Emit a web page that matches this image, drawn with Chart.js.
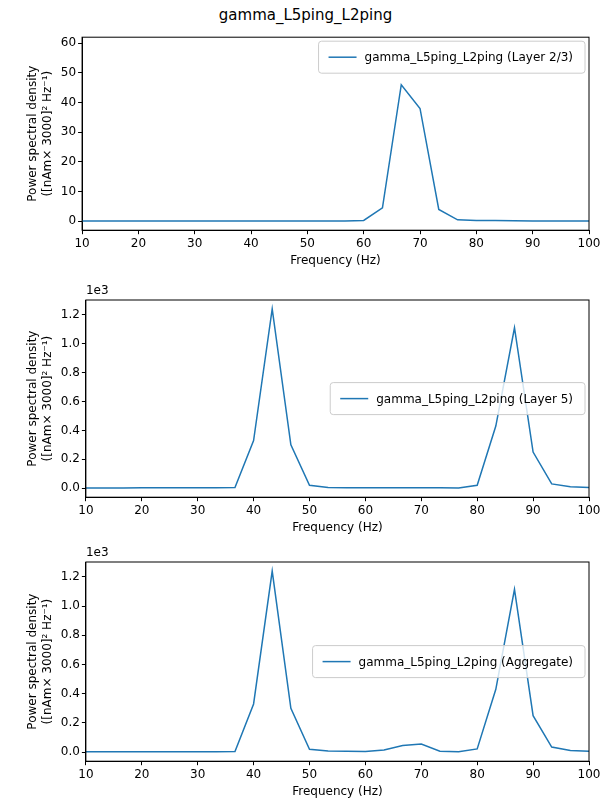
<!DOCTYPE html>
<html><head><meta charset="utf-8">
<script src="https://cdn.jsdelivr.net/npm/chart.js@4"></script>
<style>
body{margin:0;background:#fff;font-family:"DejaVu Sans";}
#title{position:absolute;top:6px;left:0;width:611px;text-align:center;font-size:15px;}
.box{position:absolute;left:0;width:611px;}
</style></head><body>
<div id="title">gamma_L5ping_L2ping</div>
<div class="box" style="top:28px;height:240px"><canvas id="c1"></canvas></div>
<div class="box" style="top:280px;height:255px"><canvas id="c2"></canvas></div>
<div class="box" style="top:542px;height:257px"><canvas id="c3"></canvas></div>
<script>
const freqs = [10,13.33,16.67,20,23.33,26.67,30,33.33,36.67,40,43.33,46.67,50,53.33,56.67,60,63.33,66.67,70,73.33,76.67,80,83.33,86.67,90,93.33,96.67,100];
const layer23 = [0.1,0.1,0.1,0.1,0.1,0.1,0.1,0.1,0.1,0.1,0.1,0.1,0.1,0.1,0.1,0.3,4.5,46,38,4,0.5,0.3,0.3,0.2,0.1,0.1,0.1,0.1];
const layer5 = [2,2,2,3,3,3,3,3,5,330,1240,300,20,5,4,4,4,4,4,3,2,20,430,1110,250,30,10,5];
const aggregate = [2,2,2,3,3,3,3,3,5,330,1240,300,20,8,6,5,15,45,55,6,3,22,430,1115,250,35,12,6];
const labels = ["gamma_L5ping_L2ping (Layer 2/3)","gamma_L5ping_L2ping (Layer 5)","gamma_L5ping_L2ping (Aggregate)"];
const blue = "#1f77b4";
Chart.defaults.font.family = "DejaVu Sans";
Chart.defaults.font.size = 12;
Chart.defaults.color = "#000";
Chart.defaults.animation = false;

const framePlugin = {
  id: "frame",
  afterDraw(chart, args, opts) {
    const a = chart.chartArea, ctx = chart.ctx;
    ctx.save();
    ctx.strokeStyle = "#000"; ctx.lineWidth = 1;
    ctx.strokeRect(a.left, a.top, a.right - a.left, a.bottom - a.top);
    ctx.fillStyle = "#000"; ctx.font = "12px DejaVu Sans";
    if (opts.exp) {
      ctx.textAlign = "left"; ctx.textBaseline = "bottom";
      ctx.fillText(opts.exp, a.left, a.top - 3);
    }
    // legend box
    const label = chart.data.datasets[0].label;
    const tw = ctx.measureText(label).width;
    const w = tw + 58, h = 32;
    const x = a.right - 4 - w;
    const y = opts.legendTop ? a.top + 4 : (a.top + a.bottom) / 2 - h / 2;
    ctx.fillStyle = "rgba(255,255,255,0.8)"; ctx.strokeStyle = "#ccc";
    ctx.beginPath(); ctx.roundRect(x, y, w, h, 3); ctx.fill(); ctx.stroke();
    ctx.strokeStyle = blue; ctx.lineWidth = 1.5;
    ctx.beginPath(); ctx.moveTo(x + 10, y + h / 2); ctx.lineTo(x + 38, y + h / 2); ctx.stroke();
    ctx.fillStyle = "#000"; ctx.textAlign = "left"; ctx.textBaseline = "middle";
    ctx.fillText(label, x + 46, y + h / 2 + 1);
    ctx.restore();
  }
};

function make(id, data, label, ymin, ymax, step, scale, exp, legendTop, padTop) {
  new Chart(document.getElementById(id), {
    type: "line",
    data: { datasets: [{ label: label, data: freqs.map((f, i) => ({ x: f, y: data[i] })),
      borderColor: blue, backgroundColor: blue, borderWidth: 1.5, pointRadius: 0, tension: 0 }] },
    options: {
      responsive: true, maintainAspectRatio: false,
      layout: { padding: { left: 22, right: 22, top: padTop, bottom: 0 } },
      plugins: {
        frame: { exp: exp, legendTop: legendTop },
        tooltip: { enabled: false },
        legend: { display: false }
      },
      scales: {
        x: { type: "linear", min: 10, max: 100,
          ticks: { stepSize: 10, padding: 2 },
          grid: { display: true, drawOnChartArea: false, drawTicks: true, tickLength: 4, color: "#000" },
          border: { color: "#000" },
          title: { display: true, text: "Frequency (Hz)", padding: { top: 1, bottom: 0 } } },
        y: { min: ymin, max: ymax,
          afterBuildTicks: ax => { const t = []; for (let v = 0; v <= ymax + 1e-9; v += step) t.push({ value: v }); ax.ticks = t; },
          ticks: { padding: 2, callback: v => scale ? (v / scale).toFixed(1) : v },
          grid: { display: true, drawOnChartArea: false, drawTicks: true, tickLength: 4, color: "#000" },
          border: { color: "#000" },
          title: { display: true, text: ["Power spectral density", "([nAm× 3000]² Hz⁻¹)"], padding: { bottom: 4 } } }
      }
    },
    plugins: [framePlugin]
  });
}
make("c1", layer23, labels[0], -3, 62, 10, 0, "", true, 7);
make("c2", layer5, labels[1], -62, 1302, 200, 1000, "1e3", false, 20);
make("c3", aggregate, labels[2], -62, 1302, 200, 1000, "1e3", false, 20);
</script>
</body></html>
